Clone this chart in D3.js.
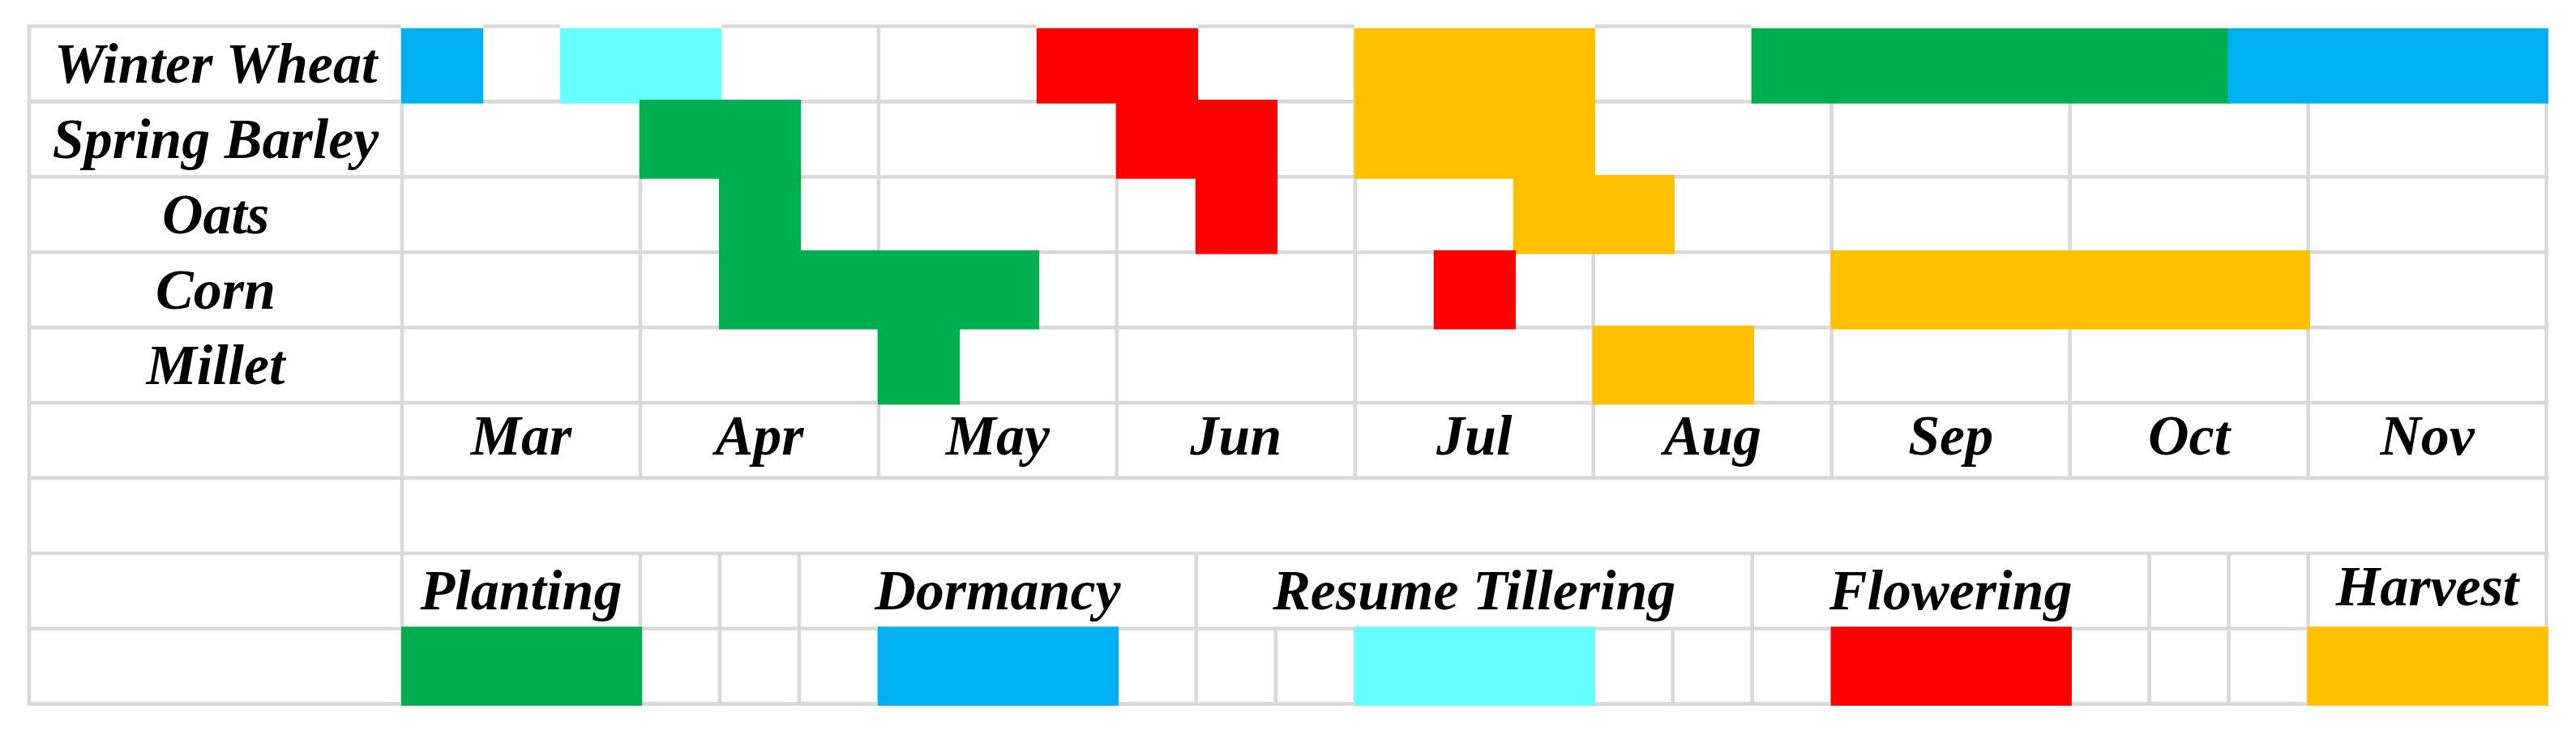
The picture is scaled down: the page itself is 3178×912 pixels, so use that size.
<!DOCTYPE html>
<html>
<head>
<meta charset="utf-8">
<script src="https://cdn.jsdelivr.net/npm/d3@7"></script>
<style>
  body { margin: 0; background: #fff; }
  svg text { font-family: "Liberation Serif", "Times New Roman", serif; font-weight: bold; font-style: italic; }
</style>
</head>
<body>
<div id="chart"></div>
<script>
// crop calendar, each month split in three (dekads), 27 columns Mar..Nov
const crops = ["Winter Wheat", "Spring Barley", "Oats", "Corn", "Millet"];
const months = ["Mar", "Apr", "May", "Jun", "Jul", "Aug", "Sep", "Oct", "Nov"];
const stages = ["Planting", "Dormancy", "Resume Tillering", "Flowering", "Harvest"];
const stageColors = ["#00B050", "#00B0F0", "#66FFFF", "#FF0000", "#FFC000"];

// [stage, first dekad, end dekad (exclusive)]
const winterWheat = [["Dormancy", 0, 1], ["Resume Tillering", 2, 4], ["Flowering", 8, 10], ["Harvest", 12, 15], ["Planting", 17, 23], ["Dormancy", 23, 27]];
const springBarley = [["Planting", 3, 5], ["Flowering", 9, 11], ["Harvest", 12, 15]];
const oats = [["Planting", 4, 5], ["Flowering", 10, 11], ["Harvest", 14, 16]];
const corn = [["Planting", 4, 8], ["Flowering", 13, 14], ["Harvest", 18, 24]];
const millet = [["Planting", 6, 7], ["Harvest", 15, 17]];
const periods = [winterWheat, springBarley, oats, corn, millet];

// legend: label cells and swatch cells in dekad columns
const legendCells = [[0, 3, "Planting"], [3, 4, ""], [4, 5, ""], [5, 10, "Dormancy"], [10, 17, "Resume Tillering"], [17, 22, "Flowering"], [22, 23, ""], [23, 24, ""], [24, 27, "Harvest"]];
const legendSwatches = [["Planting", 0, 3], ["Dormancy", 6, 9], ["Resume Tillering", 12, 15], ["Flowering", 18, 21], ["Harvest", 24, 27]];

const W = 3178, H = 912;
const nCols = 27, nRows = 9;
const left = 36, labelRight = 496, right = 3141.5;

const x = d3.scaleLinear().domain([0, nCols]).range([labelRight, right]);
const y = d3.scaleLinear().domain([0, nRows]).range([32.5, 868.6]);
const color = d3.scaleOrdinal().domain(stages).range(stageColors);

const svg = d3.select("#chart").append("svg")
    .attr("width", W).attr("height", H)
    .attr("viewBox", `0 0 ${W} ${H}`);

const lineColor = "#d9d9d9", lw = 4.6;
const grid = svg.append("g").attr("stroke", lineColor).attr("stroke-width", lw);

// horizontal lines
d3.range(nRows + 1).forEach(k => {
    grid.append("line").attr("x1", left - lw / 2).attr("x2", right + lw / 2)
        .attr("y1", y(k)).attr("y2", y(k));
});

const vline = (xx, r0, r1) => grid.append("line")
    .attr("x1", xx).attr("x2", xx).attr("y1", y(r0)).attr("y2", y(r1));

vline(left, 0, nRows);
vline(right, 0, nRows);
vline(labelRight, 0, nRows);
// month boundaries in crop rows and month row
d3.range(3, nCols, 3).forEach(c => vline(x(c), 0, 6));
// legend label row
legendCells.forEach(d => { if (d[0] > 0) vline(x(d[0]), 7, 8); });
// swatch row, every dekad
d3.range(1, nCols).forEach(c => vline(x(c), 8, 9));

// fills
const fill = (stage, c0, c1, row) => {
    const top = row === 0 ? y(0) + lw / 2 : y(row) - lw / 2;
    if (row === 0) {
        svg.append("rect").attr("x", x(c0) - 1).attr("y", y(0) - lw / 2 - 0.5)
            .attr("width", x(c1) - x(c0) + 1 + lw / 2).attr("height", lw + 1).attr("fill", "#fff");
    }
    svg.append("rect")
        .attr("x", x(c0) - 1)
        .attr("y", top)
        .attr("width", x(c1) - x(c0) + 1 + lw / 2)
        .attr("height", y(row + 1) + lw / 2 - top)
        .attr("fill", color(stage));
};

periods.forEach((list, i) => list.forEach(p => fill(p[0], p[1], p[2], i)));
legendSwatches.forEach(s => fill(s[0], s[1], s[2], 8));

const fs = 70;
const rowMid = r => (y(r) + y(r + 1)) / 2;

// crop labels
svg.append("g").selectAll("text").data(crops).join("text")
    .attr("x", (left + labelRight) / 2)
    .attr("y", (d, i) => rowMid(i) + 23.5)
    .attr("text-anchor", "middle")
    .attr("font-size", fs)
    .text(d => d);

// month labels
svg.append("g").selectAll("text").data(months).join("text")
    .attr("x", (d, i) => x(i * 3 + 1.5))
    .attr("y", rowMid(5) + 18)
    .attr("text-anchor", "middle")
    .attr("font-size", fs)
    .text(d => d);

// legend labels
svg.append("g").selectAll("text").data(legendCells.filter(d => d[2])).join("text")
    .attr("x", d => x((d[0] + d[1]) / 2))
    .attr("y", d => rowMid(7) + (d[2] === "Harvest" ? 17.5 : 22.5))
    .attr("text-anchor", "middle")
    .attr("font-size", fs)
    .text(d => d[2]);
</script>
</body>
</html>
